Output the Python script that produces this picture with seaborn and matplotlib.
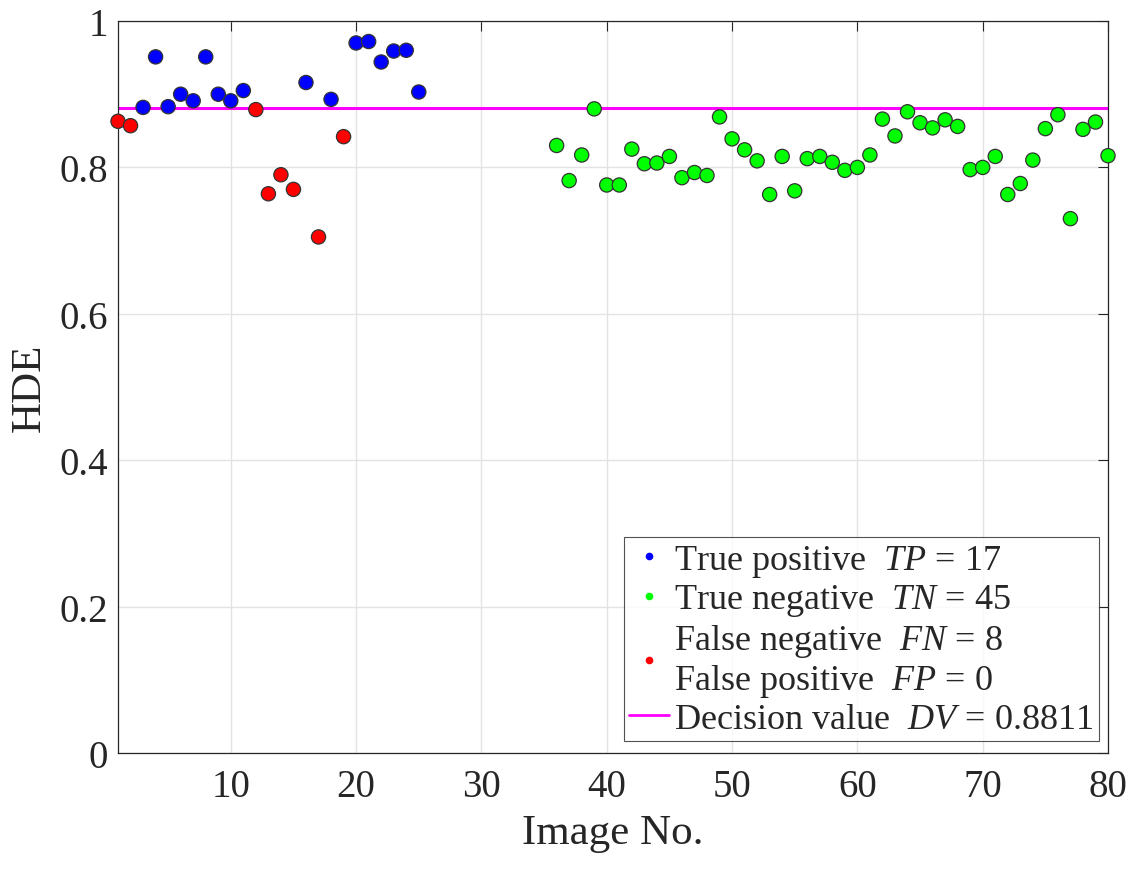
import matplotlib
matplotlib.use('Agg')
import matplotlib.pyplot as plt
import seaborn as sns
import pandas as pd
from matplotlib.lines import Line2D

# HDE per image
tp_img = [3, 4, 5, 6, 7, 8, 9, 10, 11, 16, 18, 20, 21, 22, 23, 24, 25]
tp_hde = [0.882, 0.951, 0.883, 0.900, 0.891, 0.951, 0.900, 0.891, 0.905,
          0.916, 0.893, 0.970, 0.972, 0.944, 0.959, 0.960, 0.903]

fn_img = [1, 2, 12, 13, 14, 15, 17, 19]
fn_hde = [0.863, 0.857, 0.879, 0.764, 0.790, 0.770, 0.705, 0.842]

tn_img = list(range(36, 81))
tn_hde = [0.830, 0.782, 0.817, 0.880, 0.776, 0.776, 0.825, 0.805, 0.806, 0.815,
          0.786, 0.793, 0.789, 0.869, 0.839, 0.824, 0.809, 0.763, 0.815, 0.768,
          0.812, 0.815, 0.807, 0.796, 0.800, 0.817, 0.866, 0.843, 0.876, 0.861,
          0.854, 0.865, 0.856, 0.797, 0.800, 0.815, 0.763, 0.778, 0.810, 0.853,
          0.872, 0.730, 0.852, 0.862, 0.816]

decision_value = 0.8811
labels = {
    'TP': r'True positive  $TP$ = 17',
    'TN': r'True negative  $TN$ = 45',
    'FN': 'False negative  $FN$ = 8\nFalse positive  $FP$ = 0',
    'DV': r'Decision value  $DV$ = 0.8811',
}
colors = {'TP': '#0000ff', 'TN': '#00ff00', 'FN': '#ff0000'}

df = pd.concat([
    pd.DataFrame({'img': tp_img, 'hde': tp_hde, 'cls': 'TP'}),
    pd.DataFrame({'img': fn_img, 'hde': fn_hde, 'cls': 'FN'}),
    pd.DataFrame({'img': tn_img, 'hde': tn_hde, 'cls': 'TN'}),
])

sns.set_style('white')
plt.rcParams['font.family'] = ['Liberation Serif', 'DejaVu Serif']
plt.rcParams['mathtext.fontset'] = 'custom'
plt.rcParams['mathtext.rm'] = 'Liberation Serif'
plt.rcParams['mathtext.it'] = 'Liberation Serif:italic'

fig = plt.figure(figsize=(11.39, 8.70), dpi=100)
ax = fig.add_axes([0.1036, 0.1333, 0.8692, 0.8414])

ax.grid(True, color='#e3e3e3', linewidth=1.0)
ax.set_axisbelow(True)

ax.axhline(decision_value, color='#ff00ff', linewidth=2.2, zorder=2)
sns.scatterplot(data=df, x='img', y='hde', hue='cls', palette=colors,
                s=105, edgecolor='#333333', linewidth=0.9, legend=False,
                ax=ax, zorder=3, clip_on=False)

ax.set_xlim(1, 80)
ax.set_ylim(0, 1)
ax.set_xticks(range(10, 81, 10))
ax.set_yticks([0, 0.2, 0.4, 0.6, 0.8, 1.0])
ax.set_yticklabels(['0', '0.2', '0.4', '0.6', '0.8', '1'])
ax.tick_params(direction='in', labelsize=28, length=7, width=0.8,
               colors='#262626', top=True, right=True, pad=7)
ax.tick_params(axis='x', pad=11)
for lab in ax.get_xticklabels() + ax.get_yticklabels():
    lab.set_color('#262626')
for sp in ax.spines.values():
    sp.set_visible(True)
    sp.set_color('#262626')
    sp.set_linewidth(0.9)

ax.set_xlabel('Image No.', fontsize=31, color='#262626', labelpad=6)
ax.set_ylabel('HDE', fontsize=31, color='#262626', labelpad=8)

handles = [
    Line2D([], [], marker='o', linestyle='none', markersize=4.5,
           markerfacecolor=colors['TP'], markeredgecolor=colors['TP']),
    Line2D([], [], marker='o', linestyle='none', markersize=4.5,
           markerfacecolor=colors['TN'], markeredgecolor=colors['TN']),
    Line2D([], [], marker='o', linestyle='none', markersize=4.5,
           markerfacecolor=colors['FN'], markeredgecolor=colors['FN']),
    Line2D([], [], color='#ff00ff', linewidth=2),
]
leg = ax.legend(handles, [labels['TP'], labels['TN'], labels['FN'], labels['DV']],
                loc='lower right', bbox_to_anchor=(0.991, 0.0164),
                fontsize=26, frameon=True, fancybox=False,
                edgecolor='#262626', handlelength=1.1, handletextpad=0.15,
                borderpad=0.15, labelspacing=0.1, borderaxespad=0.0)
leg.get_frame().set_linewidth(0.8)
for t in leg.get_texts():
    t.set_linespacing(1.1)

fig.savefig('out.png', dpi=100)
